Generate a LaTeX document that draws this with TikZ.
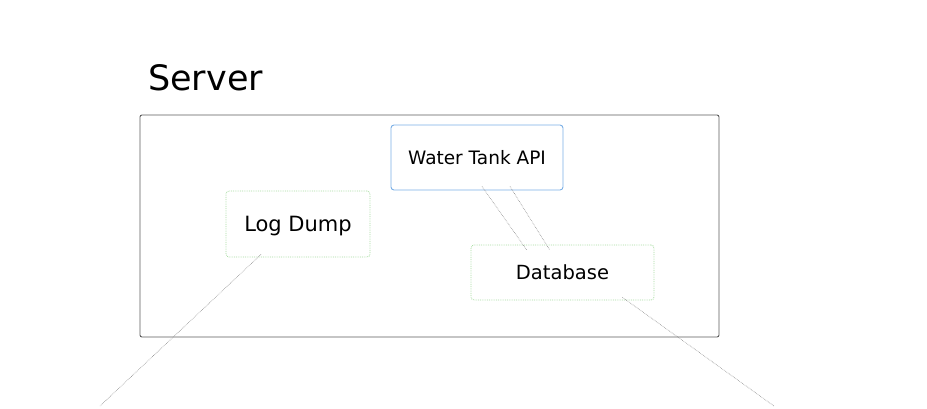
\documentclass[tikz,border=0pt]{standalone}
\usepackage{fontspec}
\setmainfont{DejaVu Sans}
\usepackage{tikz}
\usetikzlibrary{positioning, calc}
\definecolor{boxBlue}{HTML}{7AAFE6}
\definecolor{boxGreen}{HTML}{A6DCA0}
\definecolor{frameGray}{HTML}{5A5A5A}
\definecolor{linkGray}{HTML}{8A8A8A}

\begin{document}
\begin{tikzpicture}[
    x=1pt, y=-1pt,
    frame/.style={draw=frameGray, rounded corners=2pt, line width=0.9pt},
    apibox/.style={draw=boxBlue, rounded corners=3pt, line width=0.9pt, fill=white, minimum width=172pt, minimum height=65pt, font=\fontsize{18.5}{20}\selectfont},
    dotbox/.style={draw=boxGreen, densely dotted, rounded corners=3pt, line width=0.8pt, fill=white},
    link/.style={draw=linkGray, densely dotted, line width=0.6pt},
]
    \useasboundingbox (0,0) rectangle (927,408);

    % server frame
    \draw[frame] (140,115) rectangle (719,337);
    \node[font=\fontsize{35}{38}\selectfont, anchor=west, inner sep=0pt] (title) at (148,78) {Server};

    \node[apibox, text depth=-2pt] (api) at (477,157.5) {Water Tank API};
    \node[dotbox, minimum width=144pt, minimum height=66pt, font=\fontsize{21}{23}\selectfont, text depth=-4pt] (logdump) at (298,224) {Log Dump};
    \node[dotbox, minimum width=183pt, minimum height=55pt, font=\fontsize{19.5}{22}\selectfont] (db) at (562.5,272.5) {Database};

    \coordinate (logend) at (100,406);
    \coordinate (dbend) at (774,406);

    % connectors
    \draw[link] ([xshift=5pt,yshift=4pt]api.south) -- ([xshift=-36pt,yshift=-5pt]db.north);
    \draw[link] ([xshift=33pt,yshift=4pt]api.south) -- ([xshift=-13pt,yshift=-5pt]db.north);
    \draw[link] ([xshift=-37pt,yshift=3pt]logdump.south) -- (logend);
    \draw[link] ([xshift=60pt,yshift=3pt]db.south) -- (dbend);
\end{tikzpicture}
\end{document}
